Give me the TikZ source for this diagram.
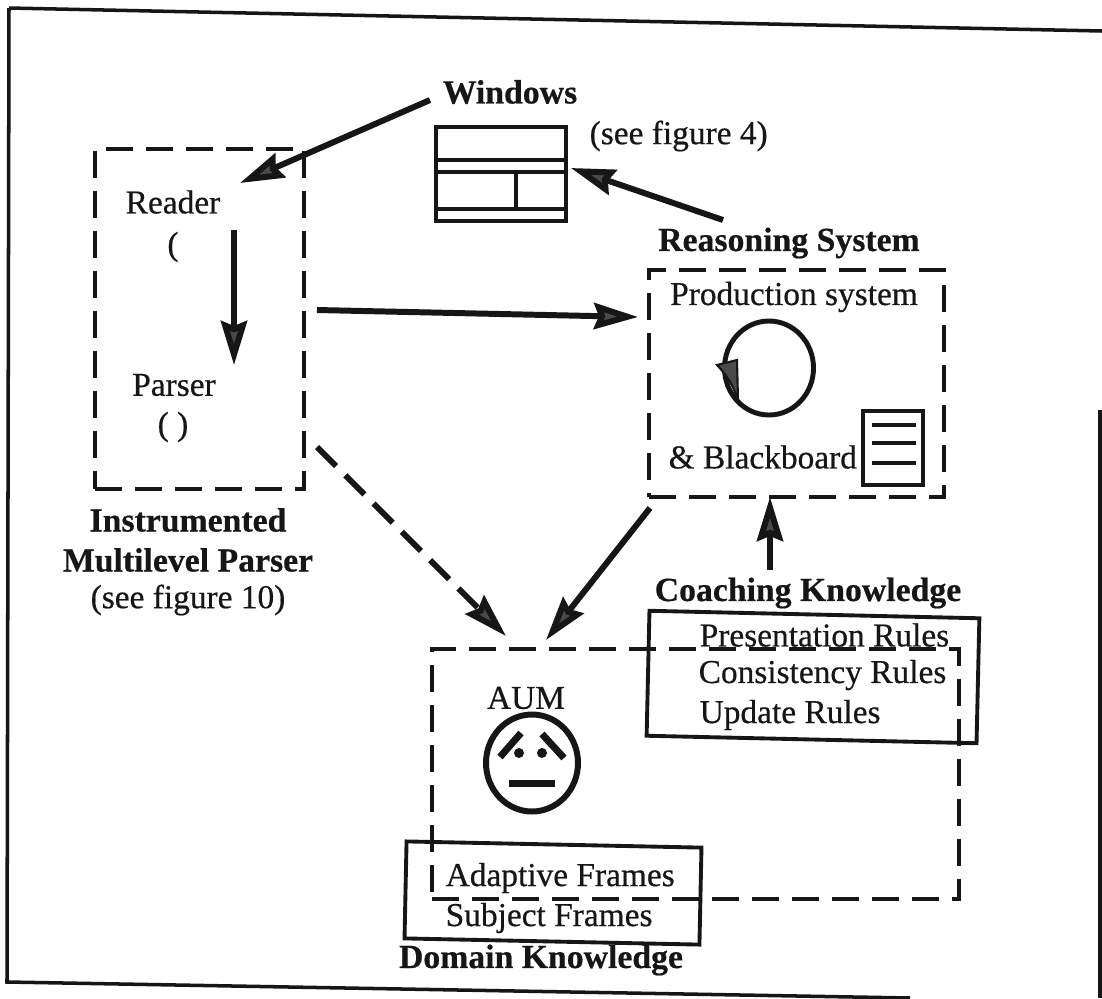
\documentclass[tikz,border=0pt]{standalone}
\usepackage{fontspec}
\setmainfont{Liberation Serif}[RawFeature={embolden=0.5}]
\usetikzlibrary{arrows.meta,shapes.geometric}
\definecolor{inkdark}{HTML}{161616}
\definecolor{tipgrey}{HTML}{4A4A4A}
\begin{document}
\begin{tikzpicture}[
  font=\fontsize{9.5}{11}\selectfont,
  ink/.style={draw=inkdark, line width=0.8pt},
  frame/.style={ink, line width=1pt},
  dbox/.style={ink, line width=1.2pt, dash pattern=on 0.27cm off 0.13cm, inner sep=0pt},
  pane/.style={ink, line width=1.1pt, inner sep=0pt},
  ar/.style={ink, line width=1.7pt, -{Stealth[length=4.4mm, width=2.6mm, inset=0.5mm, fill=tipgrey]}},
  dar/.style={ar, dash pattern=on 0.27cm off 0.13cm},
  lab/.style={inner sep=0pt, text=inkdark},
  hd/.style={lab, font=\fontsize{9.6}{11}\selectfont\bfseries},
  rl/.style={lab, anchor=west}
]
\useasboundingbox (0,0) rectangle (11.02,-9.98);
\fill[white] (0,0) rectangle (11.02,-9.98);
% ----- scanned outer frame -----
\draw[frame] (0.09,-0.08) -- (11.02,-0.31);
\draw[frame] (0.09,-0.08) -- (0.07,-9.82) -- (9.1,-9.98);
\draw[frame] (11.0,-4.1) -- (11.0,-9.98);
% ----- windows -----
\node[hd] (win) at (5.1,-0.92) {Windows};
\node[lab, anchor=west] (see4) at (5.89,-1.36) {(see figure 4)};
\node[pane, draw, anchor=north west, minimum width=1.3cm, minimum height=0.94cm] (wbox) at (4.34,-1.25) {};
\draw[pane] (wbox.west |- 0,-1.6) -- (wbox.east |- 0,-1.6);
\draw[pane] (wbox.west |- 0,-1.72) -- (wbox.east |- 0,-1.72);
\draw[pane] (wbox.west |- 0,-2.09) -- (wbox.east |- 0,-2.09);
\draw[pane] (5.16,-1.72) -- (5.16,-2.09);
% ----- parser -----
\node[dbox, draw, anchor=north west, minimum width=2.09cm, minimum height=3.4cm] (parser) at (0.93,-1.47) {};
\node[lab] (reader) at (1.73,-2.02) {Reader};
\node[lab] (rparen) at (1.73,-2.47) {(};
\node[lab] (pars) at (1.74,-3.85) {Parser};
\node[lab] (pparen) at (1.73,-4.27) {( )};
\node[hd] (inst) at (1.88,-5.2) {Instrumented};
\node[hd] (multi) at (1.88,-5.6) {Multilevel Parser};
\node[lab] (see10) at (1.88,-6.0) {(see figure 10)};
% ----- reasoning system -----
\node[hd] (reas) at (7.89,-2.43) {Reasoning System};
\node[dbox, draw, anchor=north west, minimum width=2.95cm, minimum height=2.27cm] (prod) at (6.47,-2.68) {};
\node[lab] (psys) at (7.94,-2.97) {Production system};
\node[lab, anchor=west] (bb) at (6.68,-4.57) {\& Blackboard};
\node[ink, line width=1.4pt, draw, ellipse, inner sep=0pt, minimum width=0.89cm, minimum height=0.94cm] (loop) at (7.69,-3.68) {};
\fill[tipgrey, draw=inkdark, line width=0.6pt] (7.17,-3.65) -- (7.37,-3.6) -- (7.38,-4.0) to[bend right=12] cycle;
\node[ink, line width=1.4pt, draw, inner sep=0pt, minimum width=0.6cm, minimum height=0.74cm] (board) at (8.93,-4.48) {};
\foreach \yy in {-4.25,-4.43,-4.63}{\draw[ink, line width=1.2pt] (8.72,\yy) -- (9.16,\yy);}
% ----- coaching knowledge -----
\node[hd] (coach) at (8.08,-5.93) {Coaching Knowledge};
\node[pane, draw, rotate=-1.3, minimum width=3.3cm, minimum height=1.25cm] (rules) at (8.13,-6.77) {};
\node[rl] (pres) at (6.99,-6.35) {Presentation Rules};
\node[rl] (cons) at (6.98,-6.75) {Consistency Rules};
\node[rl] (upd) at (6.99,-7.15) {Update Rules};
% ----- domain knowledge -----
\node[dbox, draw, anchor=north west, minimum width=5.27cm, minimum height=2.5cm] (aum) at (4.3,-6.47) {};
\node[lab] (aumtxt) at (5.26,-6.98) {AUM};
\node[ink, line width=1.7pt, draw, ellipse, inner sep=0pt, minimum width=0.92cm, minimum height=0.97cm] (face) at (5.32,-7.63) {};
\draw[ink, line width=2pt] (5.0,-7.57) -- (5.21,-7.33);
\draw[ink, line width=2pt] (5.42,-7.34) -- (5.64,-7.58);
\draw[ink, line width=2pt] (5.09,-7.83) -- (5.55,-7.83);
\fill[inkdark] (5.19,-7.53) circle (0.05);
\fill[inkdark] (5.42,-7.53) circle (0.05);
\node[pane, draw, rotate=-1.2, minimum width=2.95cm, minimum height=0.97cm] (frames) at (5.53,-8.93) {};
\node[rl] (adap) at (4.45,-8.78) {Adaptive Frames};
\node[rl] (subj) at (4.45,-9.18) {Subject Frames};
\node[hd] (dom) at (5.41,-9.6) {Domain Knowledge};
% ----- connector ends -----
\coordinate (wstart) at (4.3,-1.0);
\coordinate (readertip) at (2.4,-1.83);
\coordinate (reastart) at (7.23,-2.2);
\coordinate (wtip) at (5.71,-1.68);
\coordinate (rdown) at (2.34,-2.3);
\coordinate (pdown) at (2.34,-3.65);
\coordinate (pmid) at (3.17,-3.1);
\coordinate (rmid) at (6.38,-3.17);
\coordinate (plow) at (3.17,-4.47);
\coordinate (aumleft) at (5.06,-6.36);
\coordinate (rlow) at (6.5,-5.08);
\coordinate (aumright) at (5.46,-6.4);
\coordinate (cstart) at (7.7,-5.7);
\coordinate (rbottom) at (7.7,-4.97);
% ----- arrows -----
\draw[ar] (wstart) -- (readertip);
\draw[ar] (reastart) -- (wtip);
\draw[ar] (rdown) -- (pdown);
\draw[ar] (pmid) -- (rmid);
\draw[dar] (plow) -- (aumleft);
\draw[ar] (rlow) -- (aumright);
\draw[ar] (cstart) -- (rbottom);
\end{tikzpicture}
\end{document}
